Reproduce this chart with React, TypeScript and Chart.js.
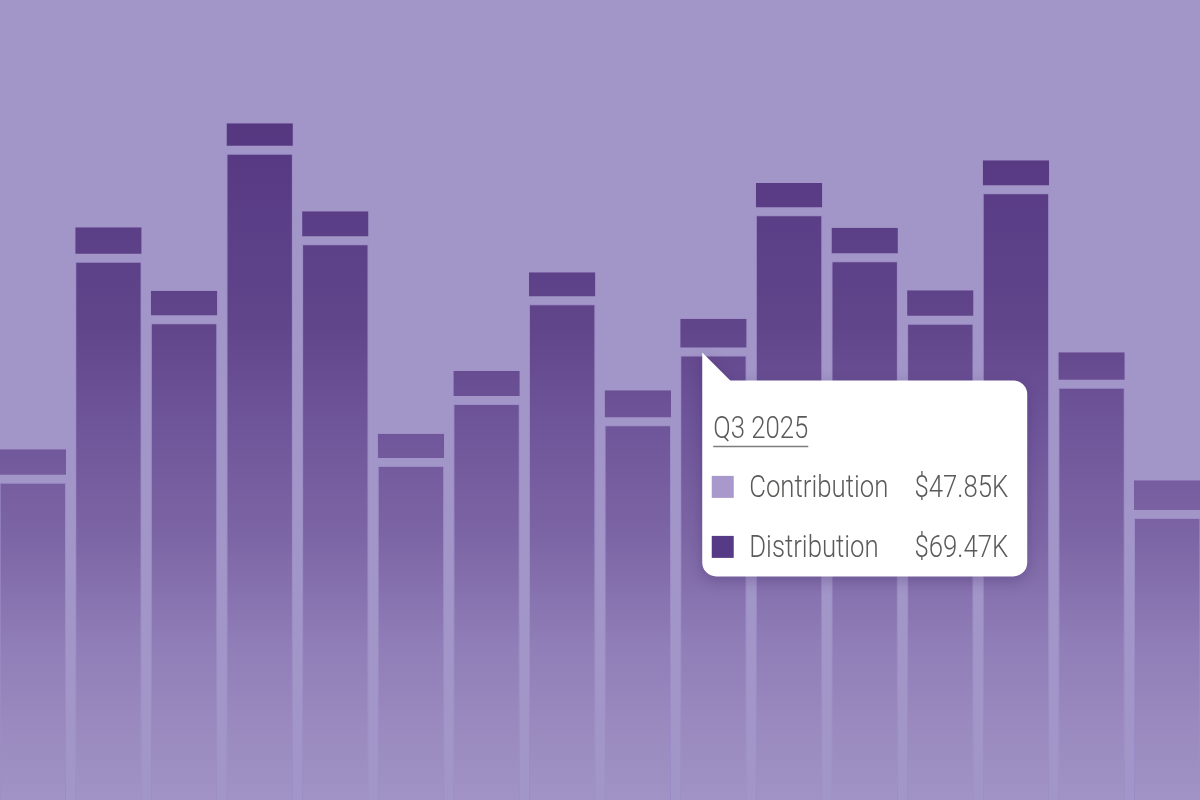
import React, { useEffect, useRef } from "react";
import { Chart, registerables } from "chart.js";

Chart.register(...registerables);

// Quarterly payout history (values in $K)
const quarters = [
  "Q2 2023", "Q3 2023", "Q4 2023", "Q1 2024", "Q2 2024", "Q3 2024", "Q4 2024", "Q1 2025",
  "Q2 2025", "Q3 2025", "Q4 2025", "Q1 2026", "Q2 2026", "Q3 2026", "Q4 2026", "Q1 2027",
];
const distribution = [
  49.58, 84.11, 74.48, 100.98, 86.83, 52.19, 61.88, 77.45,
  58.55, 69.47, 91.36, 84.17, 74.42, 94.8, 64.42, 44.06,
];
// Headroom segment stacked on top of each distribution bar
const caps = [
  5.22, 5.38, 5.09, 4.75, 5.16, 5.05, 5.16, 5.0,
  5.47, 5.73, 5.05, 5.25, 5.22, 5.16, 5.53, 5.89,
];
const yMax = 125;

// Highlighted quarter shown in the callout
const activeIndex = 9;
const activeContribution = 47.85;

const BG = "#a295c8";
const TEXT = "#5b5a59";
const SWATCH_LIGHT = "#a898cc";
const SWATCH_DARK = "#573a86";

let gradCache: CanvasGradient | null = null;
let gradKey = "";
function barFill(chart: any) {
  const area = chart.chartArea;
  if (!area) return "#5a3e86";
  const key = `${area.top}-${area.bottom}`;
  if (gradCache && gradKey === key) return gradCache;
  const g = chart.ctx.createLinearGradient(0, area.top, 0, area.bottom);
  g.addColorStop(0, "rgb(84,54,127)");
  g.addColorStop(0.15, "rgb(85,55,128)");
  g.addColorStop(0.3125, "rgb(92,64,136)");
  g.addColorStop(0.4125, "rgb(98,70,139)");
  g.addColorStop(0.525, "rgb(110,84,153)");
  g.addColorStop(0.675, "rgb(125,102,165)");
  g.addColorStop(0.8, "rgb(143,125,183)");
  g.addColorStop(0.9, "rgb(153,137,190)");
  g.addColorStop(1, "rgb(161,147,198)");
  gradCache = g;
  gradKey = key;
  return g;
}

const SX = 0.83;
const FONT = "300 31px Roboto, 'Liberation Sans Narrow', sans-serif";

function drawText(c: CanvasRenderingContext2D, text: string, x: number, y: number, align: CanvasTextAlign) {
  c.save();
  c.translate(x, y);
  c.scale(SX, 1);
  c.textAlign = align;
  c.textBaseline = "alphabetic";
  c.fillText(text, 0, 0);
  c.restore();
}

const fmt = (v: number) => `$${v.toFixed(2)}K`;

const calloutPlugin = {
  id: "quarterCallout",
  afterDatasetsDraw(chart: any) {
    const el = chart.getDatasetMeta(0).data[activeIndex];
    if (!el) return;
    const { x, y, width } = el.getProps(["x", "y", "width"], true);
    const c: CanvasRenderingContext2D = chart.ctx;
    const tipX = x - width / 2 + 22;
    const tipY = y - 3;
    const left = tipX;
    const top = tipY + 28;
    const w = 325;
    const h = 196;
    const r = 14;

    c.save();
    c.shadowColor = "rgba(45,25,85,0.28)";
    c.shadowBlur = 14;
    c.shadowOffsetY = 4;
    c.beginPath();
    c.moveTo(tipX, tipY);
    c.lineTo(tipX + 28, top);
    c.lineTo(left + w - r, top);
    c.arcTo(left + w, top, left + w, top + r, r);
    c.lineTo(left + w, top + h - r);
    c.arcTo(left + w, top + h, left + w - r, top + h, r);
    c.lineTo(left + r, top + h);
    c.arcTo(left, top + h, left, top + h - r, r);
    c.closePath();
    c.fillStyle = "#ffffff";
    c.fill();
    c.restore();

    c.save();
    c.font = FONT;
    c.fillStyle = TEXT;
    const title = quarters[activeIndex];
    drawText(c, title, left + 11, top + 57.5, "left");
    const tw = c.measureText(title).width * SX;
    c.strokeStyle = "#7d7c7b";
    c.lineWidth = 1.5;
    c.beginPath();
    c.moveTo(left + 11, top + 66);
    c.lineTo(left + 11 + tw, top + 66);
    c.stroke();

    const rows = [
      { label: "Contribution", value: activeContribution, color: SWATCH_LIGHT, base: 117 },
      { label: "Distribution", value: distribution[activeIndex], color: SWATCH_DARK, base: 177 },
    ];
    for (const row of rows) {
      c.fillStyle = row.color;
      c.fillRect(left + 9.5, top + row.base - 21.5, 22, 22);
      c.fillStyle = TEXT;
      drawText(c, row.label, left + 47, top + row.base, "left");
      drawText(c, fmt(row.value), left + w - 19, top + row.base, "right");
    }
    c.restore();
  },
};

export default function App() {
  const ref = useRef<HTMLCanvasElement>(null);

  useEffect(() => {
    if (!ref.current) return;
    const chart = new Chart(ref.current, {
      type: "bar",
      data: {
        labels: quarters,
        datasets: [
          {
            label: "Distribution",
            data: distribution,
            backgroundColor: (ctx: any) => barFill(ctx.chart),
            borderColor: "rgba(150,132,196,0.55)",
            borderWidth: 1,
            borderSkipped: "start",
            stack: "s",
          },
          {
            label: "Cap",
            data: caps,
            backgroundColor: (ctx: any) => barFill(ctx.chart),
            borderColor: BG,
            borderWidth: { top: 0, left: 0, right: 0, bottom: 8 },
            borderSkipped: false,
            stack: "s",
          },
        ],
      },
      options: {
        responsive: true,
        maintainAspectRatio: false,
        animation: false,
        layout: { padding: 0 },
        datasets: { bar: { categoryPercentage: 1, barPercentage: 0.878 } },
        scales: {
          x: { display: false, stacked: true },
          y: { display: false, stacked: true, min: 0, max: yMax },
        },
        plugins: {
          legend: { display: false },
          tooltip: { enabled: false },
        },
        events: [],
      },
      plugins: [calloutPlugin],
    } as any);

    if ((document as any).fonts?.load) {
      (document as any).fonts.load(FONT).then(() => chart.draw()).catch(() => {});
    }
    return () => chart.destroy();
  }, []);

  return (
    <div
      style={{
        position: "fixed",
        left: -5,
        top: 0,
        width: 1210,
        height: 800,
        background: BG,
        overflow: "hidden",
      }}
    >
      <canvas ref={ref} />
    </div>
  );
}
